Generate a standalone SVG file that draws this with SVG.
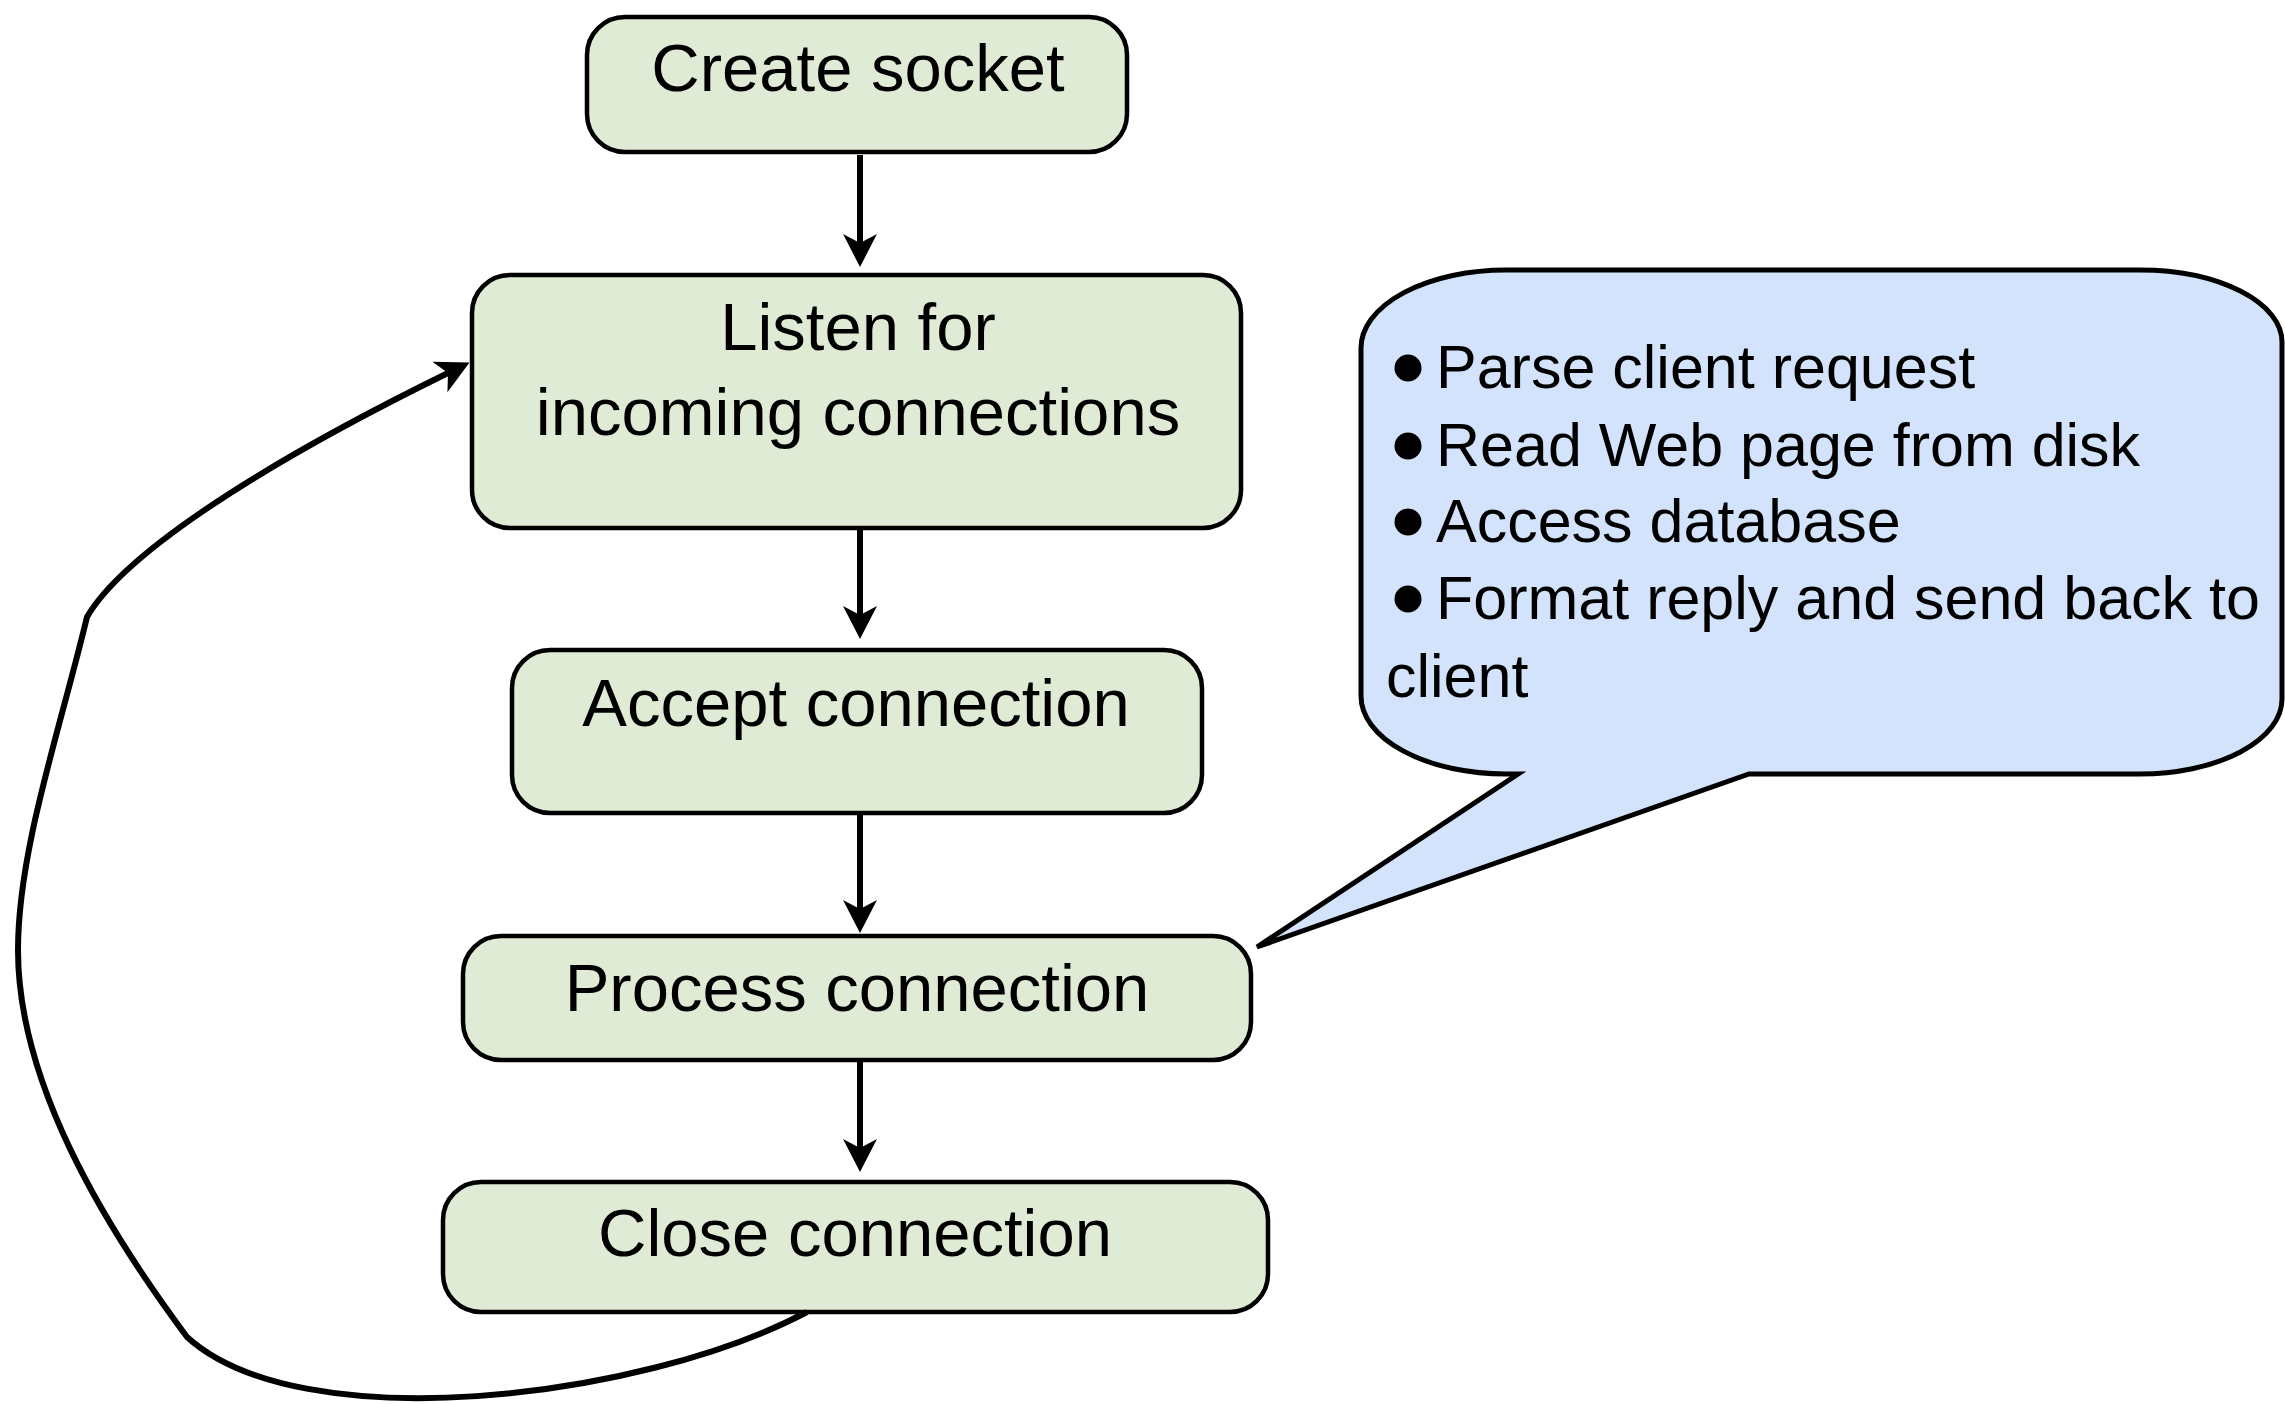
<svg xmlns="http://www.w3.org/2000/svg" width="2285" height="1404" viewBox="0 0 2285 1404">
  <style>
    .box { fill: #E0EBD5; stroke: #000; stroke-width: 4.5; }
    .label { font-family: "Liberation Sans", Arial, sans-serif; font-size: 67px; fill: #000; text-anchor: middle; }
    .note { font-family: "Liberation Sans", Arial, sans-serif; font-size: 61px; fill: #000; }
    .edge { fill: none; stroke: #000; stroke-width: 6; }
    .callout { fill: #D3E3FB; stroke: #000; stroke-width: 5; stroke-linejoin: miter; }
  </style>
  <defs>
    <marker id="arrow" markerUnits="userSpaceOnUse" viewBox="-12 -20 40 40" markerWidth="40" markerHeight="40" refX="0" refY="0" orient="auto" overflow="visible">
      <path d="M 24 0 L -9 -17 L 0 0 L -9 17 Z" fill="#000"/>
    </marker>
  </defs>

  <rect width="2285" height="1404" fill="#fff"/>

  <!-- server loop steps -->
  <g id="create-socket">
    <rect class="box" x="587" y="17" width="540" height="135" rx="38" ry="38"/>
    <text class="label" x="858" y="91">Create socket</text>
  </g>
  <g id="listen">
    <rect class="box" x="472" y="275" width="769" height="253" rx="38" ry="38"/>
    <text class="label" x="858" y="350">Listen for</text>
    <text class="label" x="858" y="435">incoming connections</text>
  </g>
  <g id="accept">
    <rect class="box" x="512" y="650" width="690" height="163" rx="38" ry="38"/>
    <text class="label" x="856" y="726">Accept connection</text>
  </g>
  <g id="process">
    <rect class="box" x="463" y="936" width="788" height="124" rx="38" ry="38"/>
    <text class="label" x="857" y="1011">Process connection</text>
  </g>
  <g id="close">
    <rect class="box" x="443" y="1182" width="825" height="130" rx="38" ry="38"/>
    <text class="label" x="855" y="1256">Close connection</text>
  </g>

  <!-- callout describing the processing step -->
  <g id="process-detail">
    <path class="callout" d="M 1506 270 H 2140 A 142 72 0 0 1 2282 342 V 699 A 142 75 0 0 1 2140 774 H 1749 L 1257 947 L 1518 774 H 1506 A 145 78 0 0 1 1361 696 V 348 A 145 78 0 0 1 1506 270 Z"/>
    <circle cx="1408" cy="368" r="13.5"/>
    <circle cx="1408" cy="446" r="13.5"/>
    <circle cx="1408" cy="522" r="13.5"/>
    <circle cx="1408" cy="599" r="13.5"/>
    <text class="note" x="1436" y="388">Parse client request</text>
    <text class="note" x="1436" y="466">Read Web page from disk</text>
    <text class="note" x="1436" y="542">Access database</text>
    <text class="note" x="1436" y="619">Format reply and send back to</text>
    <text class="note" x="1386" y="697">client</text>
  </g>

  <!-- connectors -->
  <g id="connectors">
    <line class="edge" x1="860" y1="155" x2="860" y2="243" marker-end="url(#arrow)"/>
    <line class="edge" x1="860" y1="530" x2="860" y2="615" marker-end="url(#arrow)"/>
    <line class="edge" x1="860" y1="815" x2="860" y2="909" marker-end="url(#arrow)"/>
    <line class="edge" x1="860" y1="1062" x2="860" y2="1148" marker-end="url(#arrow)"/>
    <path class="edge" d="M 807 1312 C 640 1400, 300 1440, 187 1337 C 100 1220, 18 1080, 18 950 C 18 850, 60 730, 87 617 C 120 560, 240 475, 448 373" marker-end="url(#arrow)"/>
  </g>
</svg>
